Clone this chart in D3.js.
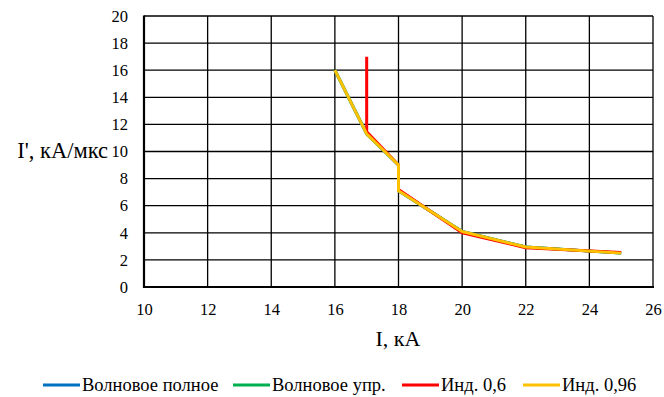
<!DOCTYPE html>
<html><head><meta charset="utf-8">
<script src="https://cdn.jsdelivr.net/npm/d3@7"></script>
<style>body{margin:0;background:#fff}svg{display:block}text{font-family:"Liberation Serif","Times New Roman",serif;fill:#000}</style>
</head><body><svg id="c" width="664" height="397"></svg>
<script>
const xTicks = [10,12,14,16,18,20,22,24,26];
const yTicks = [0,2,4,6,8,10,12,14,16,18,20];
const seriesNames = ["Волновое полное","Волновое упр.","Инд. 0,6","Инд. 0,96"];
const seriesColors = ["#0070C0","#00B050","#FF0000","#FFC000"];
const waveFullX = [16,17,18,18,20,22,25];
const waveFullY = [16,11.3,9,7.1,4.1,2.95,2.5];
const waveSimpX = [16,17,18,18,20,22,25];
const waveSimpY = [16,11.3,9,7.1,4.1,2.95,2.5];
const ind06X = [17,17,18,18,20,22,25];
const ind06Y = [17,11.45,9,7.2,4.0,2.9,2.55];
const ind096X = [16,17,18,18,20,22,25];
const ind096Y = [16,11.3,9,7.1,4.1,2.95,2.5];

const svg = d3.select("#c");
const L=144, R=653, T=16, B=287;
const x = d3.scaleLinear().domain([10,26]).range([L,R]);
const y = d3.scaleLinear().domain([0,20]).range([B,T]);

const g = svg.append("g");
g.selectAll(".gx").data(xTicks).join("line").attr("x1",d=>x(d)).attr("x2",d=>x(d)).attr("y1",T).attr("y2",B).attr("stroke","#000").attr("stroke-width",1.3);
g.selectAll(".gy").data(yTicks).join("line").attr("y1",d=>y(d)).attr("y2",d=>y(d)).attr("x1",L).attr("x2",R).attr("stroke","#000").attr("stroke-width",1.3);
svg.append("line").attr("x1",L).attr("x2",L).attr("y1",T-0.5).attr("y2",B+1).attr("stroke","#000").attr("stroke-width",2.2);
svg.append("line").attr("x1",L-1).attr("x2",R+1).attr("y1",B).attr("y2",B).attr("stroke","#000").attr("stroke-width",2.2);

const xAxis = d3.axisBottom(x).tickValues(xTicks).tickSize(0).tickPadding(16);
const ya = d3.axisLeft(y).tickValues(yTicks).tickSize(0).tickPadding(16);
const gx = svg.append("g").attr("transform",`translate(0,${B})`).call(xAxis);
const gy = svg.append("g").attr("transform",`translate(${L},0)`).call(ya);
[gx,gy].forEach(a=>{a.attr("font-family",null);a.select(".domain").remove();a.selectAll("text").style("font-family",'"Liberation Serif",serif').style("font-size","16.5px").attr("fill","#000");});

svg.append("text").attr("x",398).attr("y",346).attr("text-anchor","middle").style("font-size","22px").text("I, кА");
svg.append("text").attr("x",108).attr("y",158).attr("text-anchor","end").style("font-size","22.5px").text("I', кА/мкс");

const data = [[waveFullX,waveFullY],[waveSimpX,waveSimpY],[ind06X,ind06Y],[ind096X,ind096Y]];
const line = d3.line().x(d=>x(d[0])).y(d=>y(d[1]));
data.forEach((s,i)=>{
  const pts = s[0].map((v,j)=>[v,s[1][j]]);
  svg.append("path").attr("d",line(pts)).attr("fill","none").attr("stroke",seriesColors[i]).attr("stroke-width",3).attr("stroke-linejoin","round");
});

const legX = [43,233,402,523];
const lg = svg.append("g");
seriesNames.forEach((n,i)=>{
  lg.append("line").attr("x1",legX[i]).attr("x2",legX[i]+37).attr("y1",385).attr("y2",385).attr("stroke",seriesColors[i]).attr("stroke-width",3);
  lg.append("text").attr("x",legX[i]+39).attr("y",391).style("font-size","18.5px").text(n);
});
</script></body></html>
